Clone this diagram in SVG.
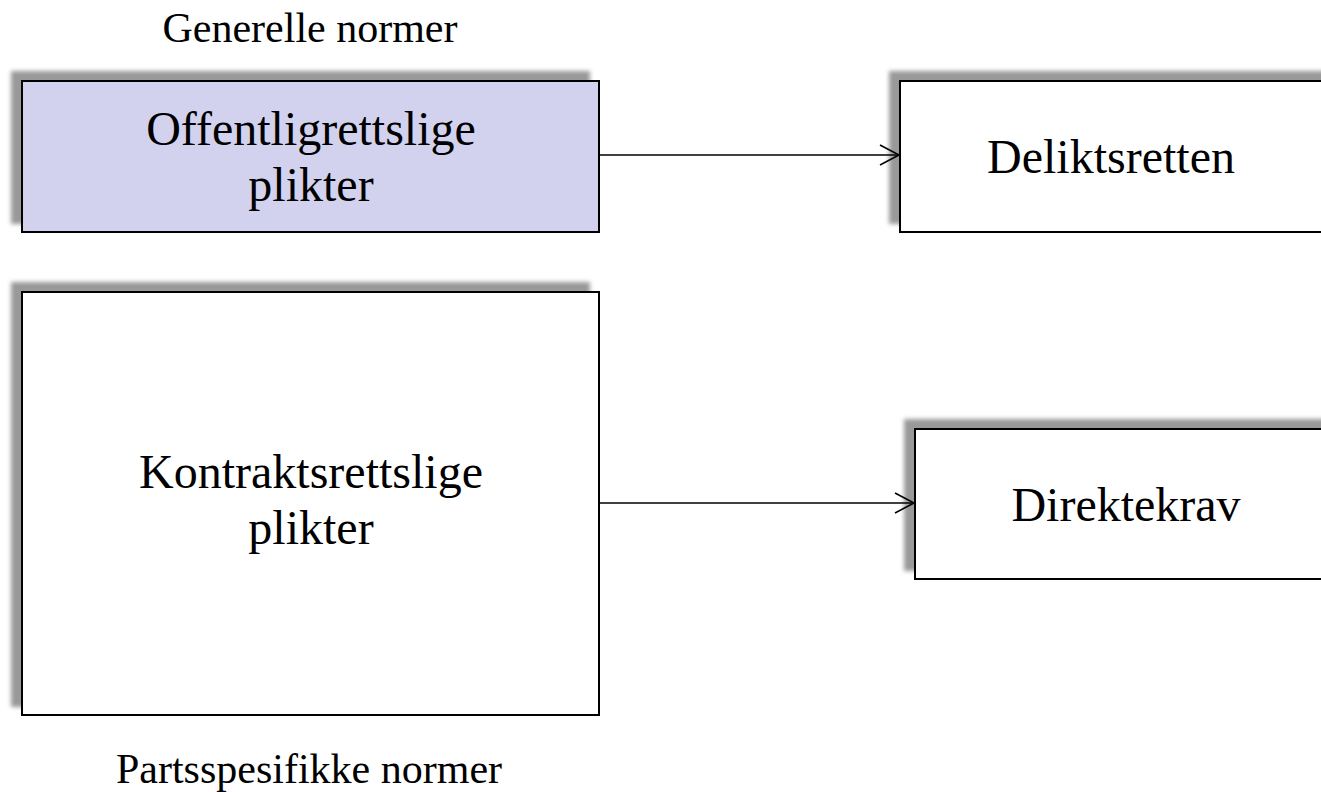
<svg xmlns="http://www.w3.org/2000/svg" width="1321" height="792" viewBox="0 0 1321 792">
<style>
.box{stroke:#000;stroke-width:2}
.t{font-family:"Liberation Serif","Times New Roman",serif;fill:#000;text-anchor:middle}
.big{font-size:48px}
.lab{font-size:42px}
.conn{stroke:#000;stroke-width:1.6;fill:none}
</style>
<defs>
<filter id="sh" x="-10%" y="-20%" width="120%" height="140%">
<feDropShadow dx="-10" dy="-9" stdDeviation="2" flood-color="#999" flood-opacity="1"/>
</filter>
<marker id="arr" markerWidth="24" markerHeight="24" refX="20" refY="11" orient="auto" markerUnits="userSpaceOnUse">
<path d="M1 1 L20 11 L1 21" fill="none" stroke="#000" stroke-width="1.6"/>
</marker>
</defs>
<rect width="1321" height="792" fill="#fff"/>
<text class="t lab" x="310" y="42">Generelle normer</text>
<text class="t lab" x="309" y="783">Partsspesifikke normer</text>
<g id="offentlig">
<rect class="box" x="22" y="81" width="577" height="151" fill="#D2D2EF" filter="url(#sh)"/>
<text class="t big" x="311" y="145">Offentligrettslige</text>
<text class="t big" x="311" y="201">plikter</text>
</g>
<g id="delikt">
<rect class="box" x="900" y="81" width="440" height="151" fill="#fff" filter="url(#sh)"/>
<text class="t big" x="1111" y="173">Deliktsretten</text>
</g>
<g id="kontrakt">
<rect class="box" x="22" y="292" width="577" height="423" fill="#fff" filter="url(#sh)"/>
<text class="t big" x="311" y="488">Kontraktsrettslige</text>
<text class="t big" x="311" y="544">plikter</text>
</g>
<g id="direkte">
<rect class="box" x="915" y="429" width="425" height="150" fill="#fff" filter="url(#sh)"/>
<text class="t big" x="1126" y="521">Direktekrav</text>
</g>
<g id="connectors">
<line class="conn" x1="600" y1="155" x2="899" y2="155" marker-end="url(#arr)"/>
<line class="conn" x1="600" y1="503" x2="914" y2="503" marker-end="url(#arr)"/>
</g>
</svg>
